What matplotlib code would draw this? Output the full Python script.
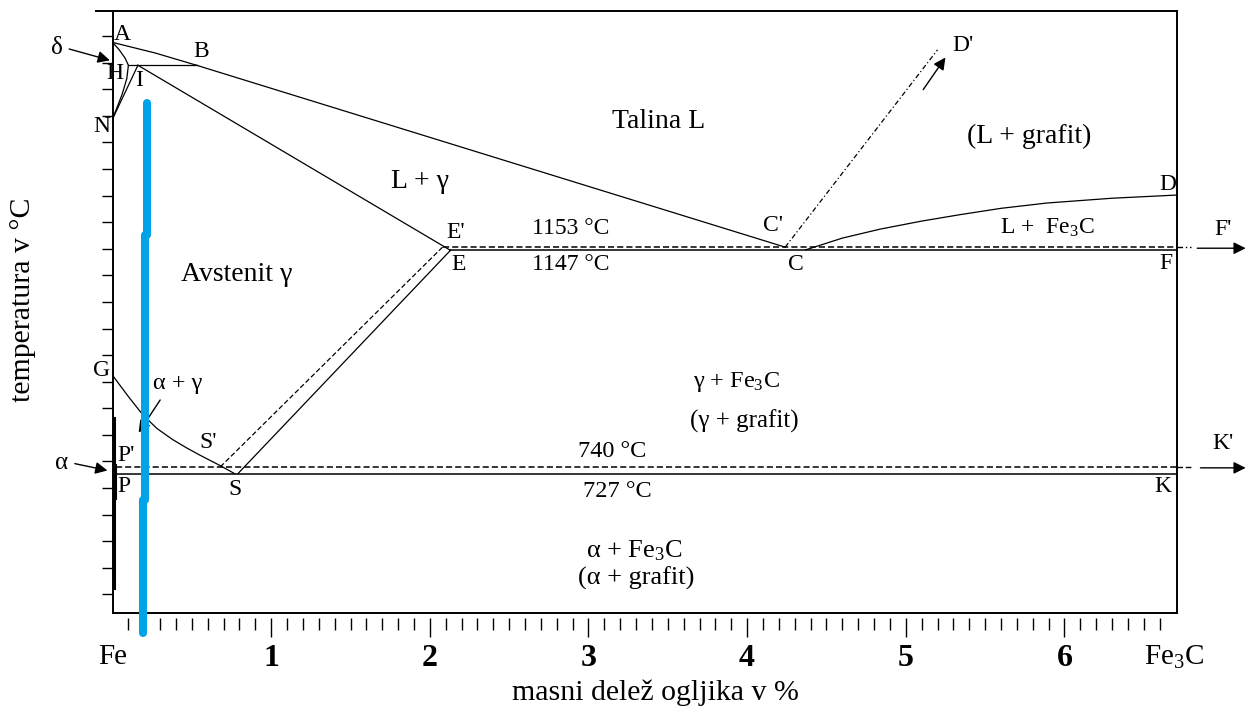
import matplotlib.pyplot as plt
import numpy as np

plt.rcParams['font.family'] = ['Liberation Serif', 'DejaVu Serif']
plt.rcParams['mathtext.fontset'] = 'custom'
plt.rcParams['mathtext.rm'] = 'Liberation Serif'
plt.rcParams['mathtext.it'] = 'Liberation Serif:italic'

# phase boundaries: mass % C  /  temperature in °C
AB_x = [0, 0.27, 0.53]
AB_t = [1538, 1518, 1495]
BC_x = [0.53, 4.24]
BC_t = [1495, 1153]
HB_x = [0.10, 0.53]
HB_t = [1495, 1495]
AHN_x = [0, 0.04, 0.08, 0.10, 0.09, 0.06, 0]
AHN_t = [1538, 1525, 1508, 1495, 1470, 1440, 1394]
IN_x = [0.16, 0]
IN_t = [1495, 1394]
IE_x = [0.16, 2.13]
IE_t = [1495, 1147]
ES_x = [2.13, 0.79]
ES_t = [1147, 727]
ES2_x = [2.08, 0.68]          # E'S' (stable system)
ES2_t = [1153, 740]
GS_x = [0, 0.1, 0.19, 0.28, 0.38, 0.47, 0.55, 0.68, 0.77]
GS_t = [912, 872, 838, 812, 791, 775, 762, 742, 727]
CD_x = [4.37, 4.6, 4.84, 5.1, 5.34, 5.6, 5.89, 6.3, 6.71]
CD_t = [1148, 1170, 1187, 1202, 1214, 1226, 1236, 1245, 1251]
CD2_x = [4.24, 5.20]          # C'D'
CD2_t = [1153, 1524]

T_eut, T_eut2 = 1147, 1153
T_eutd, T_eutd2 = 727, 740
x_E, x_E2, x_P = 2.13, 2.08, 0.02
x_max = 6.71

alpha_x = 0.01
alpha_t = [832, 512]

# blue marker line (three pieces)
blue_x = [0.217, 0.205, 0.192]
blue_top = [1424, 1176, 678]
blue_bot = [1176, 678, 428]

fig = plt.figure(figsize=(12.49, 7.12), dpi=100)
ax = fig.add_axes([0.0901, 0.139, 0.8523, 0.8455])
ax.set_xlim(0, x_max)
ax.set_ylim(465, 1597)

lw = 0.9
k = 'black'
for xs, ts in [(AB_x, AB_t), (BC_x, BC_t), (HB_x, HB_t), (AHN_x, AHN_t),
               (IN_x, IN_t), (IE_x, IE_t), (ES_x, ES_t), (GS_x, GS_t),
               (CD_x, CD_t)]:
    ax.plot(xs, ts, color=k, lw=lw)
ax.plot(ES2_x, ES2_t, color=k, lw=lw, ls=(0, (4, 2)))
ax.plot(CD2_x, CD2_t, color=k, lw=lw, ls=(0, (4, 2, 1, 2)))

ax.plot([x_E, x_max], [T_eut, T_eut], color=k, lw=1.1)
ax.plot([x_E2, x_max], [T_eut2, T_eut2], color=k, lw=1.1, ls=(0, (4, 2)))
ax.plot([x_max, 6.80], [T_eut2, T_eut2], color=k, lw=1, ls=(0, (4, 2, 1, 2)), clip_on=False)
ax.plot([x_P, x_max], [T_eutd, T_eutd], color=k, lw=1.1)
ax.plot([x_P, x_max], [T_eutd2, T_eutd2], color=k, lw=1.1, ls=(0, (4, 2)))
ax.plot([x_max, 6.80], [T_eutd2, T_eutd2], color=k, lw=1, ls=(0, (4, 2)), clip_on=False)

ax.plot([alpha_x, alpha_x], alpha_t, color=k, lw=2.2)
ax.plot([x_P, x_P], [745, 680], color=k, lw=0.8)

for bx, bt, bb in zip(blue_x, blue_top, blue_bot):
    ax.plot([bx, bx], [bt, bb], color='#00a2e8', lw=5.8,
            solid_capstyle='round', clip_on=False, zorder=5)

arrow = dict(arrowstyle='-|>', color=k, lw=1, mutation_scale=18)
for head, tail in [((0, 1503), (-0.29, 1527)),
                   ((-0.015, 732), (-0.255, 747)),
                   ((0.155, 800), (0.31, 870)),
                   ((5.26, 1514), (5.10, 1445)),
                   ((7.16, 1151), (6.82, 1151)),
                   ((7.16, 738), (6.84, 738))]:
    ax.annotate('', xy=head, xytext=tail, arrowprops=arrow,
                annotation_clip=False)

# frame
for s in ['left', 'right', 'top']:
    ax.spines[s].set_linewidth(1.4)
ax.spines['bottom'].set_position(('outward', 3.6))
ax.spines['bottom'].set_visible(False)
ax.axhline(465, color=k, lw=1.4, clip_on=False)
ax.plot([-0.105, 0], [1597, 1597], color=k, lw=1.4, clip_on=False)

ax.set_yticks(np.arange(500, 1551, 50))
ax.tick_params(axis='y', direction='out', length=8, width=1, labelleft=False)
ax.set_xticks(range(1, 7))
ax.set_xticklabels(['1', '2', '3', '4', '5', '6'], fontweight='bold')
ax.set_xticks([i / 10 for i in range(1, 67) if i % 10], minor=True)
ax.tick_params(axis='x', which='major', length=13.7, width=1, pad=5, labelsize=23)
ax.tick_params(axis='x', which='minor', length=8.6, width=1)

ax.text(0, -0.073, 'Fe', transform=ax.get_xaxis_transform(), ha='center', va='center', fontsize=21)
ax.text(6.69, -0.073, 'Fe$_3$C', transform=ax.get_xaxis_transform(), ha='center', va='center', fontsize=21)
ax.set_xlabel('masni delež ogljika v %', fontsize=21.5)
ax.xaxis.set_label_coords(0.5096, -0.133)
ax.xaxis.label.set_va('center')
fig.text(23 / 1249, 1 - 300 / 712, 'temperatura v °C', rotation=90, ha='center', va='center', fontsize=21.5)

labels = [
    ('A', 0.06, 1552, 17), ('B', 0.56, 1520, 17), ('H', 0.016, 1480, 17),
    ('I', 0.17, 1467, 17), ('N', -0.066, 1379, 17), ('δ', -0.35, 1527, 18),
    ('Talina L', 3.44, 1390, 20), ('(L + grafit)', 5.78, 1362, 20),
    ("D'", 5.36, 1533, 17), ('D', 6.65, 1270, 17), ('L + γ', 1.94, 1276, 20),
    ("E'", 2.16, 1180, 17), ('E', 2.18, 1120, 17),
    ('1153 °C', 2.89, 1188, 17), ('1147 °C', 2.89, 1121, 17),
    ("C'", 4.16, 1193, 17), ('C', 4.31, 1120, 17),
    ('L +  Fe$_3$C', 5.89, 1190, 17), ("F'", 7.0, 1187, 17), ('F', 6.64, 1123, 17),
    ('Avstenit γ', 0.78, 1101, 20), ('G', -0.07, 922, 17), ('α + γ', 0.41, 897, 17.5),
    ("S'", 0.60, 785, 17), ('S', 0.77, 697, 17), ("P'", 0.085, 762, 17),
    ('P', 0.07, 702, 17), ('α', -0.32, 747, 18),
    ('740 °C', 3.15, 768, 17.5), ('727 °C', 3.18, 693, 17.5),
    ("K'", 7.0, 783, 17), ('K', 6.62, 702, 17),
    ('γ + Fe$_3$C', 3.93, 899, 17.5), ('(γ + grafit)', 3.98, 826, 18),
    ('α + Fe$_3$C', 3.29, 582, 19), ('(α + grafit)', 3.30, 531, 19),
]
for txt, x, t, fs in labels:
    ax.text(x, t, txt, ha='center', va='center', fontsize=fs, clip_on=False)

fig.savefig('out.png', dpi=100)
